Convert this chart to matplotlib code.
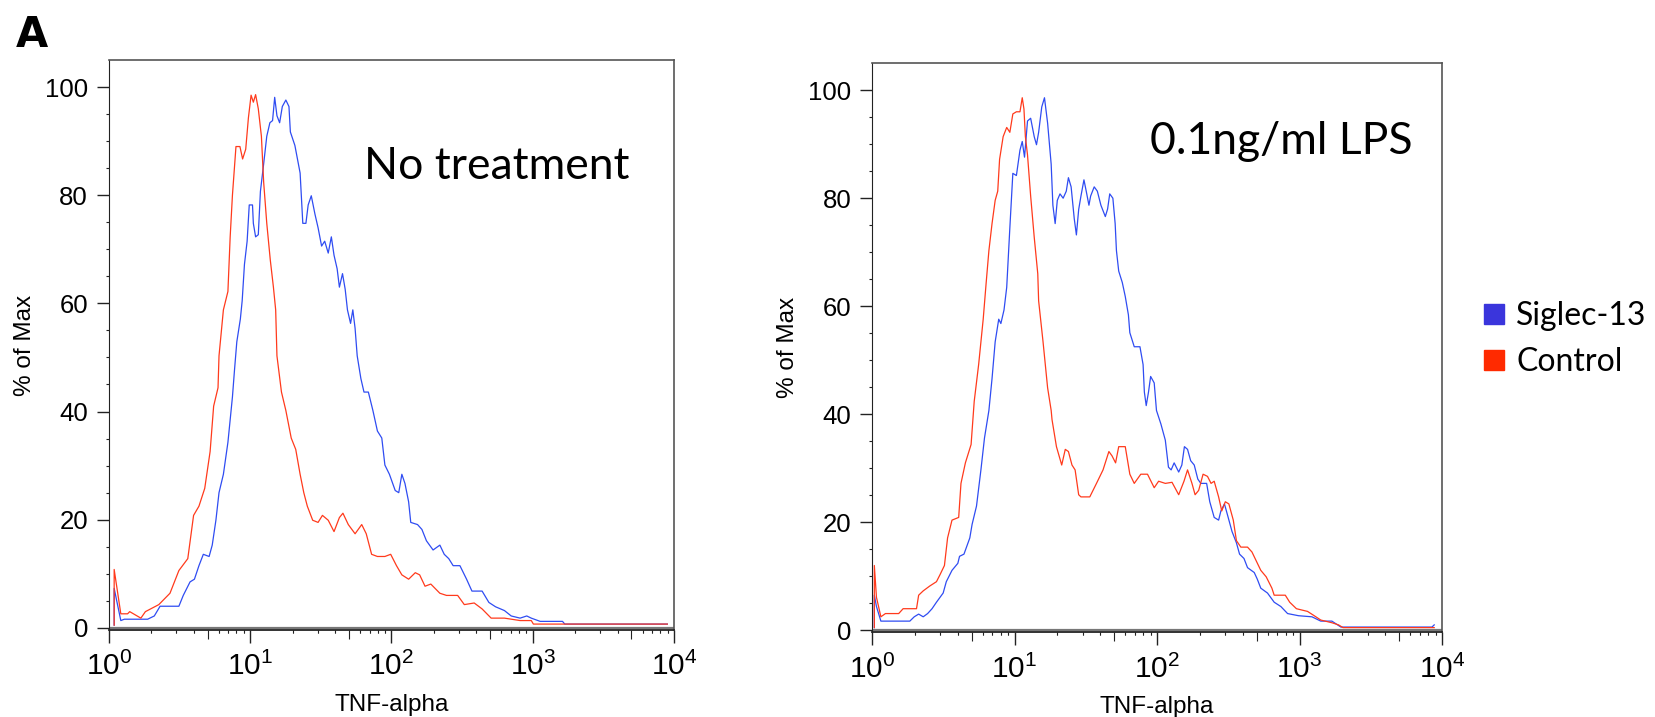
import numpy as np
import matplotlib
matplotlib.use('Agg')
import matplotlib.pyplot as plt
from matplotlib.lines import Line2D
from matplotlib.ticker import FixedLocator, LogLocator, NullFormatter

plt.rcParams['font.family'] = ['Liberation Sans', 'DejaVu Sans']
plt.rcParams['mathtext.fontset'] = 'custom'
plt.rcParams['mathtext.rm'] = 'Liberation Sans'
plt.rcParams['mathtext.it'] = 'Liberation Sans:italic'

# (log10 TNF-alpha, % of Max)
nt_ctl = [(0.038, 0.5), (0.038, 10.8), (0.085, 2.6), (0.133, 2.6), (0.148, 3.0), (0.227, 1.8),
          (0.259, 3.0), (0.354, 4.3), (0.433, 6.4), (0.496, 10.6), (0.559, 12.8), (0.600, 20.8),
          (0.638, 22.5), (0.679, 25.8), (0.717, 32.6), (0.742, 41.0), (0.773, 44.4), (0.780, 50.3),
          (0.811, 58.8), (0.843, 62.2), (0.859, 72.3), (0.875, 80.0), (0.900, 89.0), (0.928, 89.0),
          (0.947, 86.7), (0.969, 88.5), (0.988, 94.3), (1.007, 98.5), (1.023, 97.2), (1.039, 98.6),
          (1.058, 96.0), (1.080, 90.9), (1.096, 82.4), (1.118, 74.8), (1.143, 68.0), (1.165, 63.0),
          (1.181, 58.8), (1.190, 50.3), (1.222, 43.6), (1.253, 40.2), (1.291, 35.1), (1.323, 33.0),
          (1.354, 28.4), (1.380, 25.0), (1.405, 22.5), (1.443, 19.9), (1.481, 19.5), (1.512, 20.8),
          (1.553, 19.9), (1.594, 17.8), (1.632, 20.4), (1.657, 21.2), (1.695, 19.1), (1.743, 17.4),
          (1.790, 19.1), (1.822, 17.4), (1.860, 13.6), (1.901, 13.2), (1.954, 13.2), (1.995, 13.6),
          (2.036, 11.5), (2.074, 9.8), (2.122, 9.0), (2.169, 10.2), (2.200, 9.8), (2.238, 7.7),
          (2.279, 8.1), (2.343, 6.4), (2.390, 6.0), (2.469, 6.0), (2.516, 4.3), (2.586, 4.6),
          (2.642, 3.5), (2.706, 1.8), (2.800, 1.8), (2.911, 1.35), (2.990, 1.35), (3.005, 0.7),
          (3.953, 0.7)]

nt_sig = [(0.038, 0.5), (0.038, 7.3), (0.085, 1.35), (0.110, 1.6), (0.148, 1.6), (0.275, 1.6),
          (0.322, 2.2), (0.363, 4.0), (0.496, 4.0), (0.527, 6.0), (0.575, 8.5), (0.606, 9.0),
          (0.638, 11.5), (0.669, 13.6), (0.710, 13.2), (0.732, 15.3), (0.758, 19.9), (0.780, 25.0),
          (0.811, 28.4), (0.843, 34.3), (0.856, 37.7), (0.875, 42.7), (0.890, 47.8), (0.906, 52.9),
          (0.931, 57.1), (0.944, 60.5), (0.960, 67.2), (0.979, 71.5), (0.994, 78.2), (1.017, 78.2),
          (1.023, 74.8), (1.039, 72.3), (1.058, 72.7), (1.073, 80.7), (1.096, 85.8), (1.118, 90.9),
          (1.140, 93.4), (1.159, 93.8), (1.174, 98.1), (1.190, 94.7), (1.209, 93.4), (1.228, 96.4),
          (1.253, 97.6), (1.275, 96.4), (1.285, 91.7), (1.317, 89.2), (1.354, 84.1), (1.373, 74.8),
          (1.395, 74.8), (1.411, 78.2), (1.433, 79.9), (1.459, 76.5), (1.481, 74.0), (1.506, 70.6),
          (1.528, 71.5), (1.553, 69.3), (1.575, 72.3), (1.594, 68.9), (1.616, 66.4), (1.632, 63.0),
          (1.654, 65.5), (1.673, 62.6), (1.689, 58.8), (1.711, 56.3), (1.727, 58.8), (1.743, 55.4),
          (1.758, 50.3), (1.784, 46.1), (1.806, 43.6), (1.837, 43.6), (1.869, 40.2), (1.901, 36.4),
          (1.932, 35.1), (1.954, 30.1), (1.986, 28.4), (2.027, 25.4), (2.052, 25.0), (2.074, 28.4),
          (2.096, 26.7), (2.122, 23.3), (2.137, 19.5), (2.185, 19.1), (2.216, 18.2), (2.248, 16.1),
          (2.295, 14.4), (2.343, 15.3), (2.374, 13.6), (2.406, 12.8), (2.437, 11.5), (2.485, 11.5),
          (2.532, 9.0), (2.570, 6.8), (2.642, 6.8), (2.690, 4.7), (2.737, 3.9), (2.800, 3.2),
          (2.848, 2.2), (2.911, 1.8), (2.958, 2.2), (2.990, 1.8), (3.053, 1.2), (3.211, 1.2),
          (3.227, 0.7), (3.953, 0.7)]

lps_ctl = [(0.016, 0.5), (0.016, 12.0), (0.031, 6.1), (0.062, 2.5), (0.094, 3.1), (0.187, 3.1),
           (0.218, 4.0), (0.312, 4.0), (0.327, 6.5), (0.359, 7.3), (0.405, 8.2), (0.452, 9.0),
           (0.477, 10.3), (0.508, 12.0), (0.530, 17.1), (0.561, 20.4), (0.608, 20.9), (0.624, 27.2),
           (0.655, 31.0), (0.695, 34.4), (0.717, 42.4), (0.748, 49.2), (0.780, 57.6), (0.801, 64.4),
           (0.820, 70.3), (0.842, 75.3), (0.864, 79.6), (0.882, 81.3), (0.895, 87.2), (0.920, 91.4),
           (0.945, 93.1), (0.967, 92.2), (0.988, 95.6), (1.013, 96.0), (1.038, 96.0), (1.054, 98.6),
           (1.066, 96.5), (1.076, 91.4), (1.091, 88.0), (1.113, 80.4), (1.138, 72.8), (1.163, 66.0),
           (1.169, 61.0), (1.200, 53.4), (1.232, 44.9), (1.257, 40.7), (1.263, 39.0), (1.294, 34.0),
           (1.331, 30.6), (1.356, 33.5), (1.378, 33.1), (1.403, 30.6), (1.425, 29.7), (1.450, 25.1),
           (1.466, 24.7), (1.528, 24.7), (1.575, 27.2), (1.621, 29.7), (1.662, 33.1), (1.684, 32.3),
           (1.709, 31.0), (1.731, 34.0), (1.777, 34.0), (1.809, 28.9), (1.840, 27.2), (1.886, 28.9),
           (1.933, 28.9), (1.980, 26.4), (2.011, 27.6), (2.058, 27.2), (2.105, 27.4), (2.152, 25.1),
           (2.189, 27.6), (2.214, 29.7), (2.245, 27.2), (2.267, 25.1), (2.292, 25.9), (2.323, 28.9),
           (2.354, 28.5), (2.379, 27.2), (2.401, 27.6), (2.432, 24.7), (2.454, 22.1), (2.479, 23.8),
           (2.504, 23.4), (2.535, 20.4), (2.557, 16.6), (2.588, 15.4), (2.635, 15.4), (2.666, 14.5),
           (2.697, 12.8), (2.728, 11.1), (2.766, 9.9), (2.806, 7.8), (2.822, 6.5), (2.900, 6.5),
           (2.931, 5.2), (2.978, 4.0), (3.056, 3.5), (3.103, 2.7), (3.149, 1.9), (3.227, 1.4),
           (3.274, 1.0), (3.305, 0.5), (3.945, 0.5)]

lps_sig = [(0.016, 0.5), (0.016, 6.5), (0.031, 4.4), (0.062, 1.7), (0.265, 1.7), (0.296, 2.5),
           (0.327, 3.0), (0.359, 2.5), (0.390, 3.1), (0.421, 4.0), (0.452, 5.2), (0.499, 6.9),
           (0.521, 9.0), (0.561, 11.1), (0.602, 12.4), (0.614, 13.7), (0.645, 14.1), (0.686, 17.1),
           (0.702, 19.6), (0.733, 23.0), (0.764, 29.7), (0.789, 35.6), (0.820, 40.7), (0.842, 46.6),
           (0.864, 53.4), (0.889, 57.6), (0.904, 56.8), (0.926, 59.3), (0.945, 63.5), (0.967, 74.5),
           (0.988, 84.6), (1.013, 84.2), (1.038, 88.9), (1.054, 90.5), (1.070, 87.6), (1.091, 94.3),
           (1.113, 94.8), (1.138, 91.4), (1.154, 89.9), (1.169, 92.2), (1.191, 96.9), (1.210, 98.6),
           (1.232, 93.9), (1.257, 86.3), (1.269, 78.7), (1.285, 75.3), (1.300, 79.6), (1.319, 80.8),
           (1.341, 80.0), (1.363, 81.3), (1.378, 83.8), (1.397, 82.1), (1.419, 76.2), (1.434, 73.2),
           (1.450, 77.9), (1.466, 80.4), (1.487, 83.4), (1.503, 81.3), (1.522, 78.7), (1.534, 80.4),
           (1.559, 82.1), (1.581, 81.3), (1.606, 78.7), (1.637, 76.6), (1.653, 78.0), (1.668, 80.8),
           (1.690, 80.0), (1.706, 75.3), (1.715, 70.3), (1.731, 66.5), (1.756, 64.4), (1.777, 61.8),
           (1.799, 58.4), (1.809, 55.1), (1.840, 52.5), (1.880, 52.5), (1.902, 49.2), (1.911, 44.1),
           (1.924, 41.6), (1.940, 44.1), (1.955, 47.0), (1.980, 45.8), (1.996, 40.7), (2.027, 38.2),
           (2.058, 35.2), (2.080, 30.2), (2.099, 29.7), (2.120, 31.0), (2.152, 29.3), (2.174, 30.6),
           (2.192, 34.0), (2.214, 33.5), (2.236, 31.4), (2.261, 30.6), (2.286, 28.0), (2.307, 27.2),
           (2.348, 27.2), (2.370, 23.8), (2.401, 20.9), (2.432, 20.4), (2.448, 22.1), (2.473, 23.4),
           (2.495, 21.3), (2.526, 18.3), (2.557, 16.2), (2.579, 14.1), (2.610, 13.3), (2.635, 11.6),
           (2.682, 10.7), (2.703, 9.5), (2.728, 7.8), (2.775, 6.9), (2.822, 5.2), (2.869, 4.4),
           (2.916, 3.1), (2.993, 2.7), (3.087, 2.5), (3.149, 1.7), (3.227, 1.7), (3.290, 0.6),
           (3.929, 0.6), (3.945, 1.0)]

panel_titles = ['No treatment', '0.1ng/ml LPS']
series_names = ['Siglec-13', 'Control']
y_ticks = [0, 20, 40, 60, 80, 100]
x_decades = [0, 1, 2, 3, 4]

blue = '#2f4cf2'
red = '#ff3a1c'

fig = plt.figure(figsize=(16.56, 7.17), dpi=100)
ax1 = fig.add_axes([0.0657, 0.1213, 0.3413, 0.795])
ax2 = fig.add_axes([0.5266, 0.1179, 0.3442, 0.7940])

panels = [(ax1, nt_sig, nt_ctl, panel_titles[0], (0.452, 0.791)),
          (ax2, lps_sig, lps_ctl, panel_titles[1], (0.487, 0.841))]

for ax, sig, ctl, title, tpos in panels:
    s = np.array(sig)
    c = np.array(ctl)
    ax.plot(10 ** s[:, 0], s[:, 1], color=blue, lw=0.9)
    ax.plot(10 ** c[:, 0], c[:, 1], color=red, lw=0.9)
    ax.axhline(0, color='#777777', lw=1.6, zorder=0)
    ax.set_xscale('log')
    ax.set_xlim(1, 1e4)
    ax.set_ylim(-0.4, 105)
    ax.xaxis.set_major_locator(FixedLocator([10 ** d for d in x_decades]))
    ax.set_xticklabels(['$10^{%d}$' % d for d in x_decades])
    ax.xaxis.set_minor_locator(LogLocator(base=10, subs=[2, 3, 4, 6, 7, 8, 9]))
    ax.xaxis.set_minor_formatter(NullFormatter())
    ax.set_yticks(y_ticks)
    ax.set_yticks(np.arange(0, 101, 5), minor=True)
    ax.tick_params(axis='y', which='major', direction='out', length=9, width=1.0,
                   labelsize=18.5, pad=6, color='#222222')
    ax.tick_params(axis='x', which='major', direction='out', length=9, width=1.0,
                   labelsize=21.5, pad=7, color='#222222')
    ax.tick_params(axis='both', which='minor', direction='out', length=2.5, width=0.8,
                   color='#222222')
    # the 5x marks are drawn a bit longer, as FlowJo does
    sec = ax.secondary_xaxis('bottom')
    sec.set_xticks([5 * 10 ** d for d in x_decades[:-1]])
    sec.tick_params(direction='out', length=6.5, width=0.8, color='#222222', labelbottom=False)
    sec.spines['bottom'].set_visible(False)
    for side in ['top', 'right']:
        ax.spines[side].set_color('#555555')
        ax.spines[side].set_linewidth(1.2)
    ax.spines['left'].set_color('#222222')
    ax.spines['bottom'].set_color('#222222')
    ax.spines['bottom'].set_linewidth(1.3)
    ax.set_ylabel('% of Max', fontsize=17.5)
    ax.yaxis.set_label_coords(-0.128, 0.5)
    ax.set_xlabel('TNF-alpha', fontsize=17.5)
    ax.xaxis.set_label_coords(0.5, -0.112)
    ax.text(tpos[0], tpos[1], title, transform=ax.transAxes, fontsize=32,
            family=['Lato', 'DejaVu Sans'], va='baseline', ha='left')

fig.text(0.0097, 0.935, 'A', fontsize=30, fontweight='bold', va='baseline',
         family=['DejaVu Sans'])

handles = [Line2D([], [], ls='', marker='s', markersize=14, color='#3a35dc'),
           Line2D([], [], ls='', marker='s', markersize=14, color='#ff2a00')]
leg = fig.legend(handles, series_names, loc='center left', bbox_to_anchor=(0.877, 0.527),
                 frameon=False, handlelength=0.8, handletextpad=0.3, labelspacing=0.5,
                 prop={'family': ['Lato', 'DejaVu Sans'], 'size': 23})

fig.savefig('out.png', dpi=100)
